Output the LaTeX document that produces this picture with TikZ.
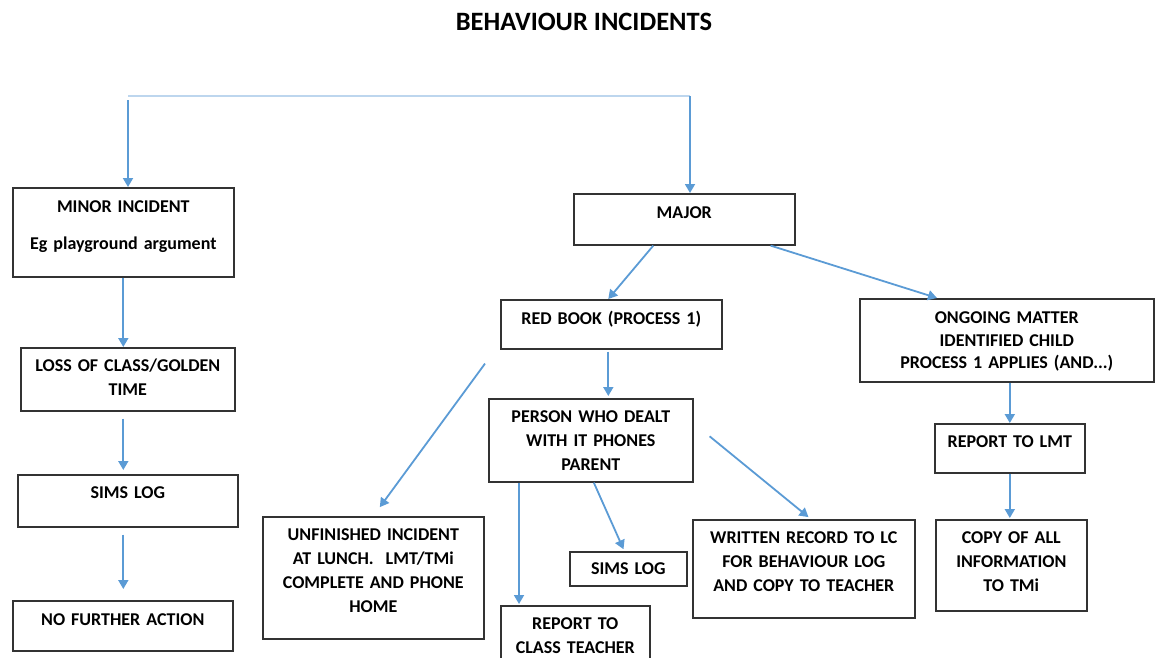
\documentclass[tikz,border=0pt]{standalone}
\usepackage{fontspec}
\setmainfont{Carlito}
\usetikzlibrary{calc, positioning, arrows.meta}
\definecolor{flowblue}{RGB}{91,155,213}
\definecolor{paleblue}{RGB}{189,214,238}
\tikzset{
  % Box style
  box/.style={rectangle, draw=black!80, line width=1.6pt, anchor=north west, inner sep=0pt, align=center, font=\fontsize{18}{24}\selectfont\bfseries},
  % Box size: width, height above first baseline, depth below it
  sz/.style n args={3}{text width=#1pt, text height=#2pt, text depth=#3pt},
  % Connectors
  flow/.style={draw=flowblue, line width=1.8pt, -{Triangle[width=10pt,length=9pt]}},
  gap/.style={shorten <=7pt, shorten >=4pt},
  topline/.style={draw=paleblue, line width=1.8pt},
  % Labels
  titlelabel/.style={font=\fontsize{26.5}{30}\selectfont\bfseries},
}

\begin{document}
\begin{tikzpicture}[x=1pt, y=-1pt]
  \useasboundingbox (0,0) rectangle (1155,657);

  \node[titlelabel] (title) at (584,22) {BEHAVIOUR INCIDENTS};

  % --- MINOR BRANCH ---
  \node[box, sz={221}{25}{64}] (minor) at (12,187) {MINOR INCIDENT\\[13pt]Eg playground argument};
  \node[box, sz={214}{24}{39}] (loss)  at (20,347) {LOSS OF CLASS/GOLDEN\\TIME};
  \node[box, sz={220}{24}{28}] (sims1) at (17,474) {SIMS LOG};
  \node[box, sz={220}{25}{25}] (nfa)   at (12,600) {NO FURTHER ACTION};

  % --- MAJOR BRANCH ---
  \node[box, sz={221}{25}{26}] (major)   at (573,193) {MAJOR};
  \node[box, sz={221}{25}{24}] (redbook) at (500,299) {RED BOOK (PROCESS 1)};
  \node[box, sz={204}{24}{59}] (person)  at (488,398) {PERSON WHO DEALT\\WITH IT PHONES\\PARENT};
  \node[box, sz={221}{24}{98}] (unfin)   at (262,516) {UNFINISHED INCIDENT\\AT LUNCH.\ \ LMT/TMi\\COMPLETE AND PHONE\\HOME};
  \node[box, sz={149}{24}{51}] (classt)  at (500,605) {REPORT TO\\CLASS TEACHER};
  \node[box, sz={117}{23}{11}] (sims2)   at (569,551) {SIMS LOG};
  \node[box, sz={222}{24}{74}] (written) at (692,519) {WRITTEN RECORD TO LC\\FOR BEHAVIOUR LOG\\AND COPY TO TEACHER};

  % --- ONGOING BRANCH ---
  \node[box, sz={294}{25}{58}] (ongoing) at (859,298) {ONGOING MATTER\\[-1.5pt]IDENTIFIED CHILD\\[-1.5pt]PROCESS 1 APPLIES (AND...)};
  \node[box, sz={150}{24}{25}] (lmt)     at (934,423) {REPORT TO LMT};
  \node[box, sz={151}{24}{67}] (copy)    at (935,519) {COPY OF ALL\\INFORMATION\\TO TMi};

  % Free ends
  \coordinate (topL) at (128,96);
  \coordinate (topR) at (690,96);
  \coordinate (rbtail) at ([xshift=-15pt,yshift=-14pt]redbook.south west);
  \coordinate (pdtail) at ([xshift=16pt,yshift=4pt]person.east);

  % --- CONNECTORS ---
  \draw[topline] (topL) -- (topR);
  \draw[flow, shorten <=4pt] (topL) -- (topL |- minor.north);
  \draw[flow] (topR) -- (topR |- major.north);

  \draw[flow] (minor.south) -- (minor.south |- loss.north);
  \draw[flow, gap] (loss.south -| minor.south) -- (sims1.north -| minor.south);
  \draw[flow, shorten <=7pt, shorten >=11pt] (sims1.south -| minor.south) -- (nfa.north -| minor.south);

  \draw[flow] ([xshift=-31pt]major.south) -- ([xshift=-3pt]redbook.north);
  \draw[flow] ([xshift=-25pt]major.south east) -- ([xshift=78pt]ongoing.north west);
  \draw[flow, shorten <=2pt, shorten >=2pt] ([xshift=-3pt]redbook.south) -- ([xshift=-3pt]redbook.south |- person.north);
  \draw[flow, shorten >=11pt] (rbtail) -- (unfin.north);
  \draw[flow, shorten >=1pt] ([xshift=31pt]person.south west) -- ([xshift=31pt]person.south west |- classt.north);
  \draw[flow, shorten >=2pt] ([xshift=3pt]person.south) -- ([xshift=-4pt]sims2.north);
  \draw[flow, shorten >=3pt] (pdtail) -- ([xshift=7pt]written.north);

  \draw[flow] (lmt.north |- ongoing.south) -- (lmt.north);
  \draw[flow, shorten >=1pt] (lmt.south) -- (lmt.south |- copy.north);
\end{tikzpicture}
\end{document}
